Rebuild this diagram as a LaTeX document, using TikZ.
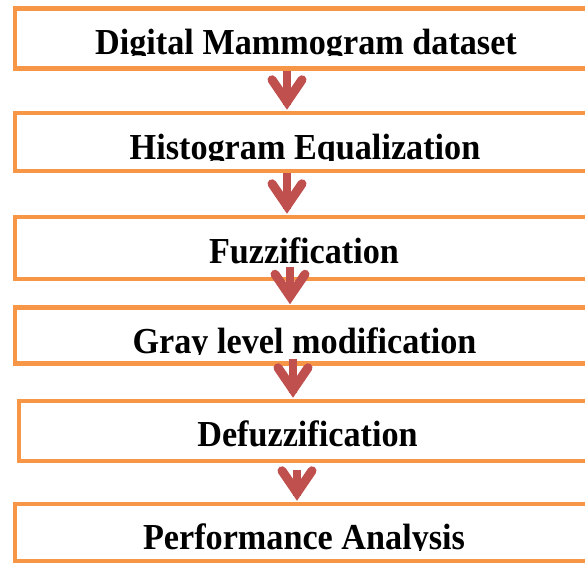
\documentclass[tikz,border=0pt]{standalone}
\usepackage{fontspec}
\usepackage{graphicx}
\setmainfont{Liberation Serif}
\definecolor{boxorange}{HTML}{F79646}
\definecolor{arrowred}{HTML}{C0504D}
\newcommand{\tallbold}[1]{\scalebox{1}[1.07]{#1}}
\begin{document}
\begin{tikzpicture}[x=1pt,y=-1pt,
  stepbox/.style={draw=boxorange,line width=4.5pt,rectangle,inner sep=0pt},
  steptext/.style={anchor=base,inner sep=0pt,font=\fontsize{34.2}{34}\selectfont\bfseries},
  flowshaft/.style={draw=arrowred,line width=7.5pt},
  flowarrow/.style={draw=arrowred,line width=9pt,line cap=round,line join=miter}]
\useasboundingbox (0,0) rectangle (585,563);
\clip (0,0) rectangle (585,563);
% boxes (right edge off the page)
\node[stepbox,minimum width=583pt,minimum height=60pt] (b1) at (306.5,38.5) {};
\node[stepbox,minimum width=583pt,minimum height=58pt] (b2) at (306.5,142) {};
\node[stepbox,minimum width=583pt,minimum height=62pt] (b3) at (306.5,248) {};
\node[stepbox,minimum width=583pt,minimum height=56pt] (b4) at (306.5,335.5) {};
\node[stepbox,minimum width=579pt,minimum height=60pt] (b5) at (308.5,431) {};
\node[stepbox,minimum width=583pt,minimum height=57pt] (b6) at (306.5,532.5) {};
% texts, cut just below their base lines as in the reference
\begin{scope}
\clip (20,15) rectangle (585,55.5);
\node[steptext] (t1) at (306,54.5) {\tallbold{Digital Mammogram dataset}};
\end{scope}
\begin{scope}
\clip (20,118) rectangle (585,160);
\node[steptext] (t2) at (305,159) {\tallbold{Histogram Equalization}};
\end{scope}
\begin{scope}
\clip (20,222) rectangle (585,274);
\node[steptext] (t3) at (304,263) {\tallbold{Fuzzification}};
\end{scope}
\begin{scope}
\clip (20,312) rectangle (585,354);
\node[steptext] (t4) at (304.5,353) {\tallbold{Gray level modification}};
\end{scope}
\begin{scope}
\clip (24,406) rectangle (585,458);
\node[steptext] (t5) at (307.5,446.5) {\tallbold{Defuzzification}};
\end{scope}
\begin{scope}
\clip (20,508) rectangle (585,550);
\node[steptext] (t6) at (304,549) {\tallbold{Performance Analysis}};
\end{scope}
% arrows
\coordinate (a1s) at ([xshift=-19.5pt]b1.south);
\coordinate (a1e) at ([xshift=-19.5pt]b2.north);
\draw[flowshaft] (a1s) -- ([yshift=6pt]a1e);
\draw[flowarrow] ([xshift=-15pt,yshift=31pt]a1e) -- ([yshift=9pt]a1e) -- ([xshift=15pt,yshift=31pt]a1e);
\coordinate (a2s) at ([xshift=-19.5pt]b2.south);
\coordinate (a2e) at ([xshift=-19.5pt]b3.north);
\draw[flowshaft] (a2s) -- ([yshift=6pt]a2e);
\draw[flowarrow] ([xshift=-15pt,yshift=31pt]a2e) -- ([yshift=9pt]a2e) -- ([xshift=15pt,yshift=31pt]a2e);
\coordinate (a3s) at ([xshift=-16.5pt,yshift=14pt]b3.south);
\coordinate (a3e) at ([xshift=-16.5pt]b4.north);
\draw[flowshaft] (a3s) -- ([yshift=6pt]a3e);
\draw[flowarrow] ([xshift=-15pt,yshift=31pt]a3e) -- ([yshift=9pt]a3e) -- ([xshift=15pt,yshift=31pt]a3e);
\coordinate (a4s) at ([xshift=-13.5pt,yshift=7pt]b4.south);
\coordinate (a4e) at ([xshift=-15.5pt]b5.north);
\draw[flowshaft] (a4s) -- ([yshift=6pt]a4e);
\draw[flowarrow] ([xshift=-15pt,yshift=31pt]a4e) -- ([yshift=9pt]a4e) -- ([xshift=15pt,yshift=31pt]a4e);
\coordinate (a5s) at ([xshift=-11.5pt,yshift=-7pt]b5.south);
\coordinate (a5e) at ([xshift=-9.5pt]b6.north);
\draw[flowshaft] (a5s) -- ([yshift=6pt]a5e);
\draw[flowarrow] ([xshift=-15pt,yshift=31pt]a5e) -- ([yshift=9pt]a5e) -- ([xshift=15pt,yshift=31pt]a5e);
\end{tikzpicture}
\end{document}
